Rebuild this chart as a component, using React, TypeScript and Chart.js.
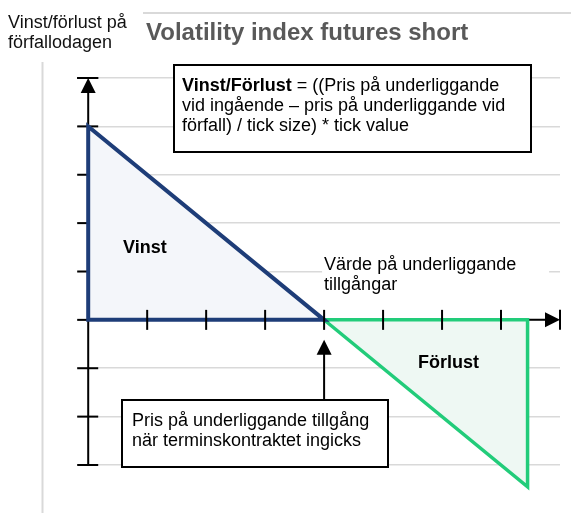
import React, { useEffect, useRef } from "react";
import { Chart, registerables } from "chart.js";

Chart.register(...registerables);

// ---- data ----
const profitX = [0, 0, 4, 0];
const profitY = [0, 4, 0, 0];
const lossX = [4, 7.45, 7.45, 4];
const lossY = [0, 0, -3.45, 0];
const xTickValues = [1, 2, 3, 4, 5, 6, 7];
const yTickValues = [-3, -2, -1, 0, 1, 2, 3, 4, 5];
const strikeValue = 4;
const xAxisMax = 8;
const yAxisTop = 5;
const yAxisBottom = -3;

const titleText = "Volatility index futures short";
const yTitleLines = ["Vinst/förlust på", "förfallodagen"];
const formulaBold = "Vinst/Förlust";
const formulaLines = [
  " = ((Pris på underliggande",
  "vid ingående – pris på underliggande vid",
  "förfall) / tick size) * tick value",
];
const strikeLines = ["Pris på underliggande tillgång", "när terminskontraktet ingicks"];
const xAxisLabelLines = ["Värde på underliggande", "tillgångar"];
const profitLabel = "Vinst";
const lossLabel = "Förlust";

const BLUE = "#1E3D78";
const BLUE_FILL = "#F4F6FA";
const GREEN = "#22CC7A";
const GREEN_FILL = "#EEF8F3";
const GRID = "#D9D9D9";
const FONT = "'Liberation Sans', Arial, sans-serif";

const toPts = (xs: number[], ys: number[]) => xs.map((x, i) => ({ x, y: ys[i] }));

const decorPlugin = {
  id: "decor",
  beforeDatasetsDraw(chart: any) {
    const ctx = chart.ctx as CanvasRenderingContext2D;
    const xs = chart.scales.x;
    const ys = chart.scales.y;
    const x0 = xs.getPixelForValue(0);
    const y0 = ys.getPixelForValue(0);
    const yTop = ys.getPixelForValue(yAxisTop);
    const yBot = ys.getPixelForValue(yAxisBottom);
    const xEnd = xs.getPixelForValue(xAxisMax);
    ctx.save();
    ctx.strokeStyle = "#000";
    ctx.lineWidth = 2;
    // y axis line
    ctx.beginPath();
    ctx.moveTo(x0, yBot);
    ctx.lineTo(x0, yTop + 14);
    ctx.stroke();
    // x axis line
    ctx.beginPath();
    ctx.moveTo(x0, y0);
    ctx.lineTo(xEnd - 14, y0);
    ctx.stroke();
    // y ticks
    for (const v of yTickValues) {
      const py = ys.getPixelForValue(v);
      ctx.beginPath();
      ctx.moveTo(x0 - 11, py);
      ctx.lineTo(x0 + 10, py);
      ctx.stroke();
    }
    ctx.restore();
  },
  afterDatasetsDraw(chart: any) {
    const ctx = chart.ctx as CanvasRenderingContext2D;
    const xs = chart.scales.x;
    const ys = chart.scales.y;
    const x0 = xs.getPixelForValue(0);
    const y0 = ys.getPixelForValue(0);
    const yTop = ys.getPixelForValue(yAxisTop);
    const xEnd = xs.getPixelForValue(xAxisMax);
    const xStrike = xs.getPixelForValue(strikeValue);
    ctx.save();
    ctx.strokeStyle = "#000";
    ctx.fillStyle = "#000";
    ctx.lineWidth = 2;
    // x ticks
    for (const v of xTickValues) {
      const px = xs.getPixelForValue(v);
      ctx.beginPath();
      ctx.moveTo(px, y0 - 10);
      ctx.lineTo(px, y0 + 10);
      ctx.stroke();
    }
    // x end cap + arrow
    ctx.beginPath();
    ctx.moveTo(xEnd, y0 - 10);
    ctx.lineTo(xEnd, y0 + 10);
    ctx.stroke();
    ctx.beginPath();
    ctx.moveTo(xEnd, y0);
    ctx.lineTo(xEnd - 15, y0 - 7.5);
    ctx.lineTo(xEnd - 15, y0 + 7.5);
    ctx.closePath();
    ctx.fill();
    // y top cap + arrow
    ctx.beginPath();
    ctx.moveTo(x0 - 11, yTop);
    ctx.lineTo(x0 + 10, yTop);
    ctx.stroke();
    ctx.beginPath();
    ctx.moveTo(x0, yTop);
    ctx.lineTo(x0 - 7.5, yTop + 15);
    ctx.lineTo(x0 + 7.5, yTop + 15);
    ctx.closePath();
    ctx.fill();

    // label for underlying value
    ctx.fillStyle = "#fff";
    ctx.fillRect(xStrike - 2, 255, 227, 41);
    ctx.fillStyle = "#000";
    ctx.font = `18px ${FONT}`;
    ctx.textBaseline = "alphabetic";
    ctx.textAlign = "left";
    ctx.fillText(xAxisLabelLines[0], xStrike, 270);
    ctx.fillText(xAxisLabelLines[1], xStrike, 290);

    // region labels
    ctx.font = `bold 18px ${FONT}`;
    ctx.fillText(profitLabel, 123, 253);
    ctx.fillText(lossLabel, 418, 368);

    // formula box
    ctx.fillStyle = "#fff";
    ctx.fillRect(174, 65, 357, 87);
    ctx.strokeRect(174, 65, 357, 87);
    ctx.fillStyle = "#000";
    ctx.font = `bold 18px ${FONT}`;
    ctx.fillText(formulaBold, 182, 91);
    const bw = ctx.measureText(formulaBold).width;
    ctx.font = `18px ${FONT}`;
    ctx.fillText(formulaLines[0], 182 + bw, 91);
    ctx.fillText(formulaLines[1], 182, 111);
    ctx.fillText(formulaLines[2], 182, 131);

    // strike box + arrow
    ctx.beginPath();
    ctx.moveTo(xStrike, 400);
    ctx.lineTo(xStrike, y0 + 34);
    ctx.stroke();
    ctx.beginPath();
    ctx.moveTo(xStrike, y0 + 20);
    ctx.lineTo(xStrike - 7.5, y0 + 35);
    ctx.lineTo(xStrike + 7.5, y0 + 35);
    ctx.closePath();
    ctx.fill();
    ctx.fillStyle = "#fff";
    ctx.fillRect(122, 400, 266, 67);
    ctx.strokeRect(122, 400, 266, 67);
    ctx.fillStyle = "#000";
    ctx.font = `18px ${FONT}`;
    ctx.fillText(strikeLines[0], 132, 426);
    ctx.fillText(strikeLines[1], 132, 446);
    ctx.restore();
  },
  afterDraw(chart: any) {
    const ctx = chart.ctx as CanvasRenderingContext2D;
    ctx.save();
    // frame lines
    ctx.strokeStyle = GRID;
    ctx.lineWidth = 2;
    ctx.beginPath();
    ctx.moveTo(143, 13);
    ctx.lineTo(571, 13);
    ctx.moveTo(42.5, 62);
    ctx.lineTo(42.5, 513);
    ctx.stroke();
    // titles
    ctx.textAlign = "left";
    ctx.textBaseline = "alphabetic";
    ctx.fillStyle = "#595959";
    ctx.font = `bold 24px ${FONT}`;
    ctx.fillText(titleText, 146, 40);
    ctx.fillStyle = "#111";
    ctx.font = `18px ${FONT}`;
    ctx.fillText(yTitleLines[0], 8, 28);
    ctx.fillText(yTitleLines[1], 8, 48);
    ctx.restore();
  },
};

export default function App() {
  const ref = useRef<HTMLCanvasElement | null>(null);
  useEffect(() => {
    if (!ref.current) return;
    const chart = new Chart(ref.current, {
      type: "line",
      data: {
        datasets: [
          {
            data: toPts(profitX, profitY),
            borderColor: BLUE,
            backgroundColor: BLUE_FILL,
            borderWidth: 4,
            fill: "shape",
            pointRadius: 0,
            tension: 0,
            borderJoinStyle: "miter",
            borderCapStyle: "square",
          } as any,
          {
            data: toPts(lossX, lossY),
            borderColor: GREEN,
            backgroundColor: GREEN_FILL,
            borderWidth: 3.5,
            fill: "shape",
            pointRadius: 0,
            tension: 0,
            borderJoinStyle: "miter",
            borderCapStyle: "square",
          } as any,
        ],
      },
      options: {
        responsive: false,
        maintainAspectRatio: false,
        animation: false,
        events: [],
        layout: { padding: { left: 77, right: 11, top: 78, bottom: 19 } },
        plugins: {
          legend: { display: false },
          tooltip: { enabled: false },
          title: { display: false },
        },
        scales: {
          x: { type: "linear", min: -0.19, max: xAxisMax, display: false },
          y: {
            type: "linear",
            min: -3.6,
            max: yAxisTop,
            display: true,
            ticks: { display: false, stepSize: 1 },
            border: { display: false },
            grid: {
              drawTicks: false,
              lineWidth: 1.5,
              color: (c: any) =>
                c.tick && Number.isInteger(c.tick.value) && c.tick.value >= yAxisBottom ? GRID : "rgba(0,0,0,0)",
            },
          },
        },
      },
      plugins: [decorPlugin],
    });
    return () => chart.destroy();
  }, []);
  return (
    <div style={{ position: "absolute", left: 0, top: 0, width: 571, height: 513, background: "#fff" }}>
      <canvas ref={ref} width={571} height={513} style={{ display: "block" }} />
    </div>
  );
}
